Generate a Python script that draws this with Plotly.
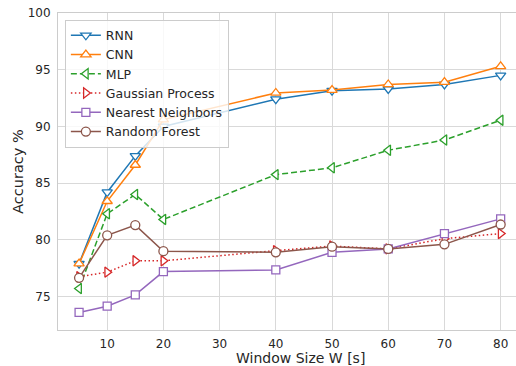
import plotly.graph_objects as go

window = [5, 10, 15, 20, 40, 50, 60, 70, 80]
rnn = [77.9, 84.2, 87.4, 90.0, 92.4, 93.15, 93.3, 93.7, 94.5]
cnn = [77.9, 83.4, 86.6, 90.6, 92.95, 93.2, 93.7, 93.9, 95.3]
mlp = [75.7, 82.3, 84.0, 81.8, 85.75, 86.35, 87.9, 88.8, 90.55]
gp = [76.75, 77.15, 78.15, 78.15, 79.05, 79.45, 79.2, 80.1, 80.55]
knn = [73.6, 74.15, 75.15, 77.2, 77.35, 78.9, 79.2, 80.55, 81.85]
rf = [76.65, 80.4, 81.3, 79.0, 78.9, 79.4, 79.2, 79.6, 81.35]

series = [
    ("RNN", rnn, "#1f77b4", "triangle-down", "solid"),
    ("CNN", cnn, "#ff7f0e", "triangle-up", "solid"),
    ("MLP", mlp, "#2ca02c", "triangle-left", "6px,3px"),
    ("Gaussian Process", gp, "#d62728", "triangle-right", "1.5px,2.5px"),
    ("Nearest Neighbors", knn, "#9467bd", "square", "solid"),
    ("Random Forest", rf, "#8c564b", "circle", "solid"),
]

xticks = [10, 20, 30, 40, 50, 60, 70, 80]
yticks = [75, 80, 85, 90, 95, 100]

fig = go.Figure()
for name, vals, color, sym, dash in series:
    fig.add_trace(go.Scatter(
        x=window, y=vals, name=name, mode="lines+markers",
        line=dict(color=color, width=1.5, dash=dash),
        marker=dict(symbol=sym, size=9 if sym != "square" else 8, color="white",
                    line=dict(color=color, width=1.3)),
    ))

axis_common = dict(
    showgrid=True, gridcolor="#d9d9d9", gridwidth=1,
    showline=True, linecolor="#cccccc", linewidth=1, mirror=True,
    zeroline=False,
    ticks="outside", tickcolor="rgba(0,0,0,0)",
    tickfont=dict(family="DejaVu Sans", size=12, color="#262626"),
    title_font=dict(family="DejaVu Sans", size=14.5, color="#262626"),
)

fig.update_layout(
    width=516, height=366,
    margin=dict(l=58, r=0, t=13, b=36),
    paper_bgcolor="white", plot_bgcolor="white",
    font=dict(family="DejaVu Sans", color="#262626"),
    xaxis=dict(range=[1.25, 82.73], tickvals=xticks, ticklen=3, **axis_common),
    yaxis=dict(range=[72.05, 100], tickvals=yticks, ticklen=4,
               title=dict(text="Accuracy %", standoff=0), **axis_common),
    legend=dict(
        x=0.015, y=0.979, xanchor="left", yanchor="top",
        bgcolor="rgba(255,255,255,0.8)", bordercolor="#cccccc", borderwidth=1,
        font=dict(family="DejaVu Sans", size=12.5, color="#262626"),
        tracegroupgap=0,
    ),
    annotations=[dict(
        text="Window Size W [s]", xref="paper", yref="paper",
        x=(300 - 58) / 458, y=-0.057, xanchor="center", yanchor="top",
        showarrow=False, font=dict(family="DejaVu Sans", size=14, color="#262626"),
    )],
)

fig.write_html("out.html")
